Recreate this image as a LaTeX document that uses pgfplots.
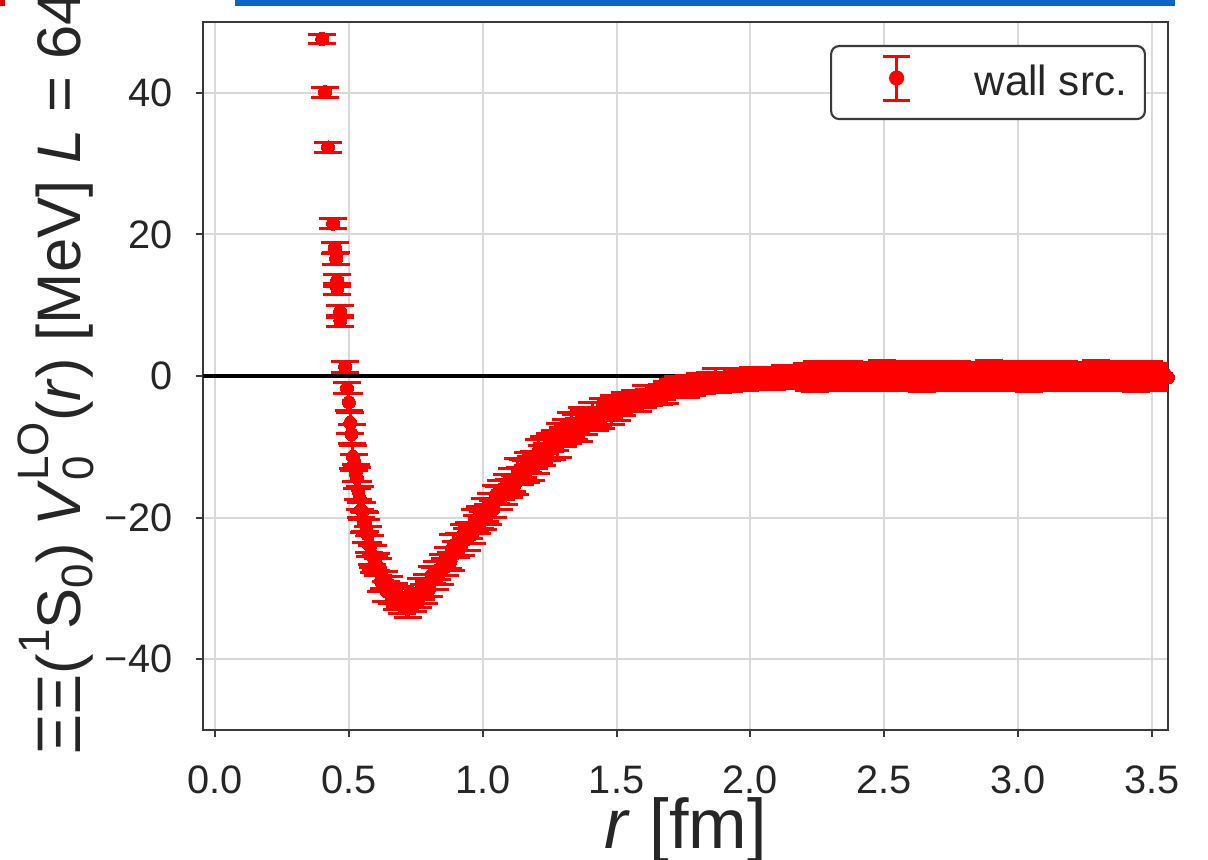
\documentclass[border=0pt]{standalone}
\usepackage{pgfplots}
\pgfplotsset{compat=1.18}
\usepackage{fontspec}
\setmainfont{Liberation Sans}
\definecolor{txt}{HTML}{262626}
\definecolor{frame}{HTML}{3A3A3A}
\definecolor{slideblue}{HTML}{0A66C2}
\newcommand{\smallscr}[1]{{\fontsize{12.5}{14}\selectfont #1}}
\begin{document}
\begin{tikzpicture}
\useasboundingbox (0,0) rectangle (12.08,8.60);
\clip (0,0) rectangle (12.08,8.60);
\fill[slideblue] (2.35,8.54) rectangle (11.75,8.62);
\fill[red!85!black] (0,8.54) rectangle (0.05,8.62);
\begin{axis}[
  at={(2.03cm,1.30cm)}, anchor=south west,
  width=9.65cm, height=7.08cm, scale only axis,
  xmin=-0.045, xmax=3.56, ymin=-50, ymax=50,
  xtick={0,0.5,1,1.5,2,2.5,3,3.5},
  xticklabels={0.0,0.5,1.0,1.5,2.0,2.5,3.0,3.5},
  ytick={-40,-20,0,20,40},
  yticklabels={−40,−20,0,20,40},
  xtick pos=left, ytick pos=left,
  tick align=outside, major tick length=0.07cm,
  tick style={frame, line width=0.6pt},
  axis line style={frame, line width=0.6pt},
  grid=major, grid style={line width=0.6pt, color=black!15},
  ticklabel style={font=\fontsize{11.3}{13}\selectfont, text=txt},
  yticklabel style={inner sep=0pt, xshift=-0.23cm},
  xticklabel style={inner sep=0pt, yshift=-0.28cm},
  xlabel={\textit{r} [fm]},
  xlabel style={at={(axis description cs:0.5,-0.167)}, anchor=base, inner sep=0pt,
    font=\fontsize{20}{24}\selectfont, text=txt},
  ylabel={ΞΞ(\raisebox{0.5em}{\smallscr{1}}S\raisebox{-0.2em}{\smallscr{0}}) \textit{V}\rlap{\raisebox{-0.22em}{\smallscr{0}}}\raisebox{0.52em}{\smallscr{LO}}(\textit{r}) [MeV] \textit{L} = 64},
  ylabel style={at={(axis description cs:-0.112,0.505)}, anchor=south, inner sep=0pt,
    font=\fontsize{17.5}{21}\selectfont, text=txt},
  legend style={at={(0.9772,0.9675)}, anchor=north east, draw=frame, line width=0.6pt,
    rounded corners=0.08cm, fill=white, inner sep=0pt, column sep=0pt,
    nodes={inner sep=0pt}, font=\fontsize{12}{14}\selectfont, text=txt},
  legend cell align=left,
  legend image code/.code={
    \path[draw=none,fill=none] (-0.035cm,-0.365cm) rectangle (1.40cm,0.365cm);
    \draw[red, line width=0.85pt] (0.62cm,-0.175cm) -- (0.62cm,0.265cm);
    \draw[red, line width=0.85pt] (0.485cm,-0.175cm) -- (0.755cm,-0.175cm);
    \draw[red, line width=0.85pt] (0.485cm,0.265cm) -- (0.755cm,0.265cm);
    \fill[red] (0.62cm,0.045cm) circle (0.065cm);
  },
]
\addplot[black, line width=1pt, forget plot] coordinates {(-0.1,0) (3.7,0)};
\addplot[red, only marks, mark=*, mark size=0.065cm, mark options={fill=red, draw=red, line width=0pt},
  error bars/.cd, y dir=both, y explicit,
  error bar style={red, line width=0.85pt},
  error mark options={red, rotate=90, mark size=0.14cm, line width=0.85pt}]
table[x index=0, y index=1, y error index=2] {
r v e
0.400 47.6 0.7
0.411 40.1 0.7
0.422 32.3 0.7
0.441 21.5 0.7
0.448 18.1 0.8
0.452 16.6 0.8
0.456 13.5 0.8
0.457 12.3 0.8
0.467 9.1 0.8
0.468 7.8 0.8
0.486 1.3 0.8
0.493 -1.7 0.8
0.500 -3.7 1.2
0.505 -6.6 1.5
0.510 -8.2 1.3
0.515 -11.4 1.6
0.520 -12.2 1.1
0.525 -13.7 1.2
0.530 -14.4 1.5
0.535 -16.2 1.3
0.540 -17.2 1.6
0.545 -18.9 1.1
0.550 -19.1 1.2
0.555 -20.6 1.5
0.560 -20.6 1.3
0.565 -21.9 1.6
0.570 -22.4 1.1
0.575 -23.8 1.2
0.580 -24.0 1.5
0.585 -25.3 1.3
0.590 -25.5 1.6
0.595 -26.6 1.1
0.600 -26.3 1.2
0.61 -27.0 1.2
0.62 -29.0 1.4
0.63 -28.8 1.2
0.64 -30.4 1.4
0.65 -29.4 1.1
0.66 -30.9 1.2
0.67 -30.7 1.4
0.68 -31.8 1.2
0.69 -31.1 1.4
0.70 -32.5 1.0
0.71 -31.8 1.1
0.72 -32.9 1.2
0.73 -31.2 1.2
0.74 -32.0 1.3
0.75 -31.1 1.1
0.76 -31.5 1.2
0.77 -30.1 1.5
0.78 -30.8 1.3
0.79 -29.6 1.6
0.80 -30.1 1.1
0.81 -28.1 1.2
0.82 -28.6 1.5
0.83 -27.5 1.3
0.84 -27.8 1.6
0.85 -26.3 1.1
0.86 -27.0 1.2
0.87 -25.7 1.5
0.88 -26.2 1.3
0.89 -24.0 1.6
0.90 -24.5 1.1
0.91 -23.5 1.2
0.92 -23.8 1.5
0.93 -22.3 1.3
0.94 -23.1 1.6
0.95 -21.8 1.1
0.96 -22.4 1.2
0.97 -20.4 1.5
0.98 -21.0 1.3
0.99 -20.0 1.6
1.00 -20.4 1.3
1.01 -18.9 1.6
1.02 -19.6 1.4
1.03 -18.3 1.7
1.04 -18.8 1.2
1.05 -16.7 1.3
1.06 -17.2 1.6
1.07 -16.1 1.4
1.08 -16.5 1.7
1.09 -15.1 1.2
1.10 -15.9 1.3
1.11 -14.7 1.6
1.12 -15.4 1.4
1.13 -13.4 1.7
1.14 -14.1 1.2
1.15 -13.1 1.3
1.16 -13.5 1.6
1.17 -12.2 1.4
1.18 -13.0 1.7
1.19 -11.9 1.2
1.20 -12.5 1.3
1.21 -10.6 1.6
1.22 -11.2 1.4
1.23 -10.3 1.7
1.24 -10.7 1.2
1.25 -9.4 1.3
1.26 -10.2 1.6
1.27 -9.1 1.4
1.28 -9.8 1.7
1.29 -7.9 1.2
1.30 -8.6 1.3
1.31 -7.7 1.6
1.32 -8.2 1.4
1.33 -6.9 1.7
1.34 -7.8 1.2
1.35 -6.8 1.3
1.36 -7.6 1.6
1.37 -5.8 1.4
1.38 -6.6 1.7
1.39 -5.8 1.2
1.40 -6.4 1.3
1.41 -5.3 1.6
1.42 -6.3 1.4
1.43 -5.4 1.7
1.44 -6.2 1.2
1.45 -4.5 1.3
1.46 -5.3 1.6
1.47 -4.6 1.4
1.48 -5.2 1.7
1.49 -4.0 1.2
1.50 -5.0 1.3
1.51 -4.15 1.2
1.52 -4.5 1.1
1.53 -3.6 1.3
1.54 -4.0 0.9
1.55 -3.55 1.0
1.56 -3.8 1.2
1.57 -3.2 1.1
1.58 -3.7 1.3
1.59 -3.15 0.9
1.60 -3.5 1.0
1.61 -2.6 1.2
1.62 -3.0 1.1
1.63 -2.6 1.3
1.64 -2.9 0.9
1.65 -2.3 1.0
1.66 -2.8 1.2
1.67 -2.25 1.1
1.68 -2.6 1.3
1.69 -1.7 0.9
1.70 -2.1 1.0
1.71 -1.7 1.2
1.72 -2.0 1.1
1.73 -1.4 1.3
1.74 -1.9 0.9
1.75 -1.45 1.0
1.76 -1.9 1.2
1.77 -1.0 1.1
1.78 -1.4 1.3
1.79 -1.05 0.9
1.80 -1.4 1.0
1.81 -0.85 1.2
1.82 -1.4 1.1
1.83 -0.95 1.3
1.84 -1.4 0.9
1.85 -0.55 1.0
1.86 -1.0 1.2
1.87 -0.65 1.7
1.88 -1.0 1.3
1.89 -0.5 0.9
1.90 -1.1 1.0
1.91 -0.65 1.2
1.92 -1.1 1.1
1.93 -0.25 1.3
1.94 -0.7 0.9
1.95 -0.4 1.0
1.96 -0.8 1.2
1.97 -0.25 1.1
1.98 -0.8 1.3
1.99 -0.35 0.9
2.00 -0.8 1.0
2.01 0.0 1.2
2.02 -0.45 1.1
2.03 -0.15 1.3
2.04 -0.5 0.9
2.05 0.0 1.0
2.06 -0.6 1.2
2.07 -0.15 1.1
2.08 -0.65 1.3
2.09 0.2 0.9
2.10 -0.3 1.0
2.11 0.0 1.2
2.12 -0.4 1.1
2.13 0.15 1.3
2.14 -0.45 0.9
2.15 -0.05 1.0
2.16 -0.5 1.2
2.17 0.3 1.1
2.18 -0.2 1.3
2.19 0.1 0.9
2.20 -0.3 1.0
2.21 0.3 1.5
2.22 -0.3 1.7
2.23 0.1 1.4
2.24 -0.4 1.8
2.25 0.4 1.6
2.26 -0.1 1.5
2.27 0.2 1.7
2.28 -0.2 1.4
2.29 0.3 1.8
2.30 -0.3 1.6
2.31 0.1 1.5
2.32 -0.4 1.7
2.33 0.4 1.4
2.34 -0.1 1.8
2.35 0.2 1.6
2.36 -0.2 1.5
2.37 0.3 1.7
2.38 -0.3 1.4
2.39 0.1 1.8
2.40 -0.4 1.6
2.41 0.4 1.5
2.42 -0.1 1.7
2.43 0.2 1.4
2.44 -0.2 1.8
2.45 0.3 1.6
2.46 -0.3 1.5
2.47 0.1 1.7
2.48 -0.4 1.4
2.49 0.4 1.8
2.50 -0.1 1.6
2.51 0.2 1.5
2.52 -0.2 1.7
2.53 0.3 1.4
2.54 -0.3 1.8
2.55 0.1 1.6
2.56 -0.4 1.5
2.57 0.4 1.7
2.58 -0.1 1.4
2.59 0.2 1.8
2.60 -0.2 1.6
2.61 0.3 1.5
2.62 -0.3 1.7
2.63 0.1 1.4
2.64 -0.4 1.8
2.65 0.4 1.6
2.66 -0.1 1.5
2.67 0.2 1.7
2.68 -0.2 1.4
2.69 0.3 1.8
2.70 -0.3 1.6
2.71 0.1 1.5
2.72 -0.4 1.7
2.73 0.4 1.4
2.74 -0.1 1.8
2.75 0.2 1.6
2.76 -0.2 1.5
2.77 0.3 1.7
2.78 -0.3 1.4
2.79 0.1 1.8
2.80 -0.4 1.6
2.81 0.4 1.5
2.82 -0.1 1.7
2.83 0.2 1.4
2.84 -0.2 1.8
2.85 0.3 1.6
2.86 -0.3 1.5
2.87 0.1 1.7
2.88 -0.4 1.4
2.89 0.4 1.8
2.90 -0.1 1.6
2.91 0.2 1.5
2.92 -0.2 1.7
2.93 0.3 1.4
2.94 -0.3 1.8
2.95 0.1 1.6
2.96 -0.4 1.5
2.97 0.4 1.7
2.98 -0.1 1.4
2.99 0.2 1.8
3.00 -0.2 1.6
3.01 0.3 1.5
3.02 -0.3 1.7
3.03 0.1 1.4
3.04 -0.4 1.8
3.05 0.4 1.6
3.06 -0.1 1.5
3.07 0.2 1.7
3.08 -0.2 1.4
3.09 0.3 1.8
3.10 -0.3 1.6
3.11 0.1 1.5
3.12 -0.4 1.7
3.13 0.4 1.4
3.14 -0.1 1.8
3.15 0.2 1.6
3.16 -0.2 1.5
3.17 0.3 1.7
3.18 -0.3 1.4
3.19 0.1 1.8
3.20 -0.4 1.6
3.21 0.4 1.5
3.22 -0.1 1.7
3.23 0.2 1.4
3.24 -0.2 1.8
3.25 0.3 1.6
3.26 -0.3 1.5
3.27 0.1 1.7
3.28 -0.4 1.4
3.29 0.4 1.8
3.30 0.3 1.8
3.31 0.2 1.5
3.32 -0.2 1.7
3.33 0.3 1.4
3.34 -0.3 1.8
3.35 0.1 1.6
3.36 -0.4 1.5
3.37 0.4 1.7
3.38 -0.1 1.4
3.39 0.2 1.8
3.40 -0.2 1.6
3.41 0.3 1.5
3.42 -0.3 1.7
3.43 0.1 1.4
3.44 -0.4 1.8
3.45 0.4 1.6
3.46 -0.1 1.5
3.47 0.2 1.7
3.48 -0.2 1.4
3.49 0.3 1.8
3.50 -0.3 1.6
3.51 0.1 1.5
3.52 -0.4 1.7
3.53 0.4 1.4
3.54 -0.1 1.8
3.55 0.2 1.6
3.56 -0.2 1.5
};
\addlegendentry{wall src.\kern0.18cm}
\end{axis}
\end{tikzpicture}
\end{document}
